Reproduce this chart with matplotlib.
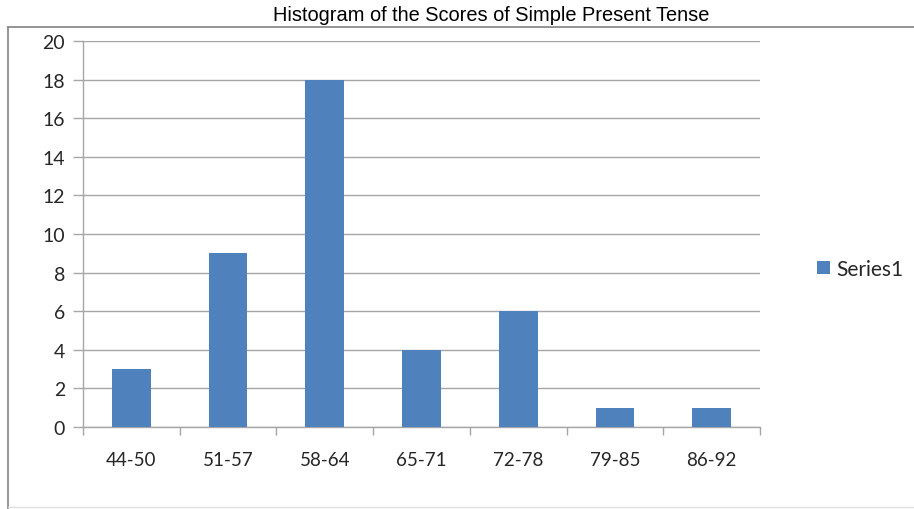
import matplotlib
matplotlib.use("Agg")
import matplotlib.pyplot as plt
from matplotlib.lines import Line2D
import numpy as np

categories = ["44-50", "51-57", "58-64", "65-71", "72-78", "79-85", "86-92"]
values = [3, 9, 18, 4, 6, 1, 1]
series_name = "Series1"
title = "Histogram of the Scores of Simple Present Tense"

fig = plt.figure(figsize=(9.14, 5.10), dpi=100)
ax = fig.add_axes([0.0908, 0.1608, 0.7407, 0.7569])

x = np.arange(len(categories))
ax.bar(x, values, width=0.4, color="#4F81BD", label=series_name, zorder=3)

ax.set_xlim(-0.5, len(categories) - 0.5)
ax.set_ylim(0, 20)
ax.set_yticks(np.arange(0, 21, 2))
ax.yaxis.grid(True, color="#a6a6a6", linewidth=1, zorder=0)
ax.set_axisbelow(True)

ax.set_xticks(x)
ax.set_xticklabels(categories, family="Lato", fontsize=13.5, color="#262626")
ax.set_xticks(np.arange(-0.5, len(categories)), minor=True)
ax.tick_params(axis="x", which="major", length=0, pad=17)
ax.tick_params(axis="x", which="minor", length=6, color="#a6a6a6", width=1)
ax.tick_params(axis="y", length=7, color="#a6a6a6", width=1, pad=6)
for lbl in ax.get_yticklabels():
    lbl.set_family("Lato")
    lbl.set_fontsize(14)
    lbl.set_color("#262626")

for s in ["top", "right"]:
    ax.spines[s].set_visible(False)
for s in ["left", "bottom"]:
    ax.spines[s].set_color("#a6a6a6")
    ax.spines[s].set_linewidth(1)

fig.text(0.537, 0.969, title, ha="center", va="center",
         family="Liberation Sans", fontsize=14.4, color="#000000")

leg = fig.legend(loc="center left", bbox_to_anchor=(0.894, 0.471), frameon=False,
                 prop={"family": "Lato", "size": 15}, handlelength=0.6,
                 handleheight=0.6, handletextpad=0.3, borderaxespad=0, borderpad=0)
for t in leg.get_texts():
    t.set_color("#262626")

# outer frame
fx = 8 / 914
fy = 1 - 28 / 510
fig.add_artist(Line2D([fx, fx], [0, fy], transform=fig.transFigure, color="#8c8c8c", linewidth=1.3))
fig.add_artist(Line2D([fx, 1], [fy, fy], transform=fig.transFigure, color="#8c8c8c", linewidth=1.3))
fig.add_artist(Line2D([fx, 1], [2 / 510, 2 / 510], transform=fig.transFigure, color="#e0e0e0", linewidth=1))

fig.savefig("out.png", dpi=100)
